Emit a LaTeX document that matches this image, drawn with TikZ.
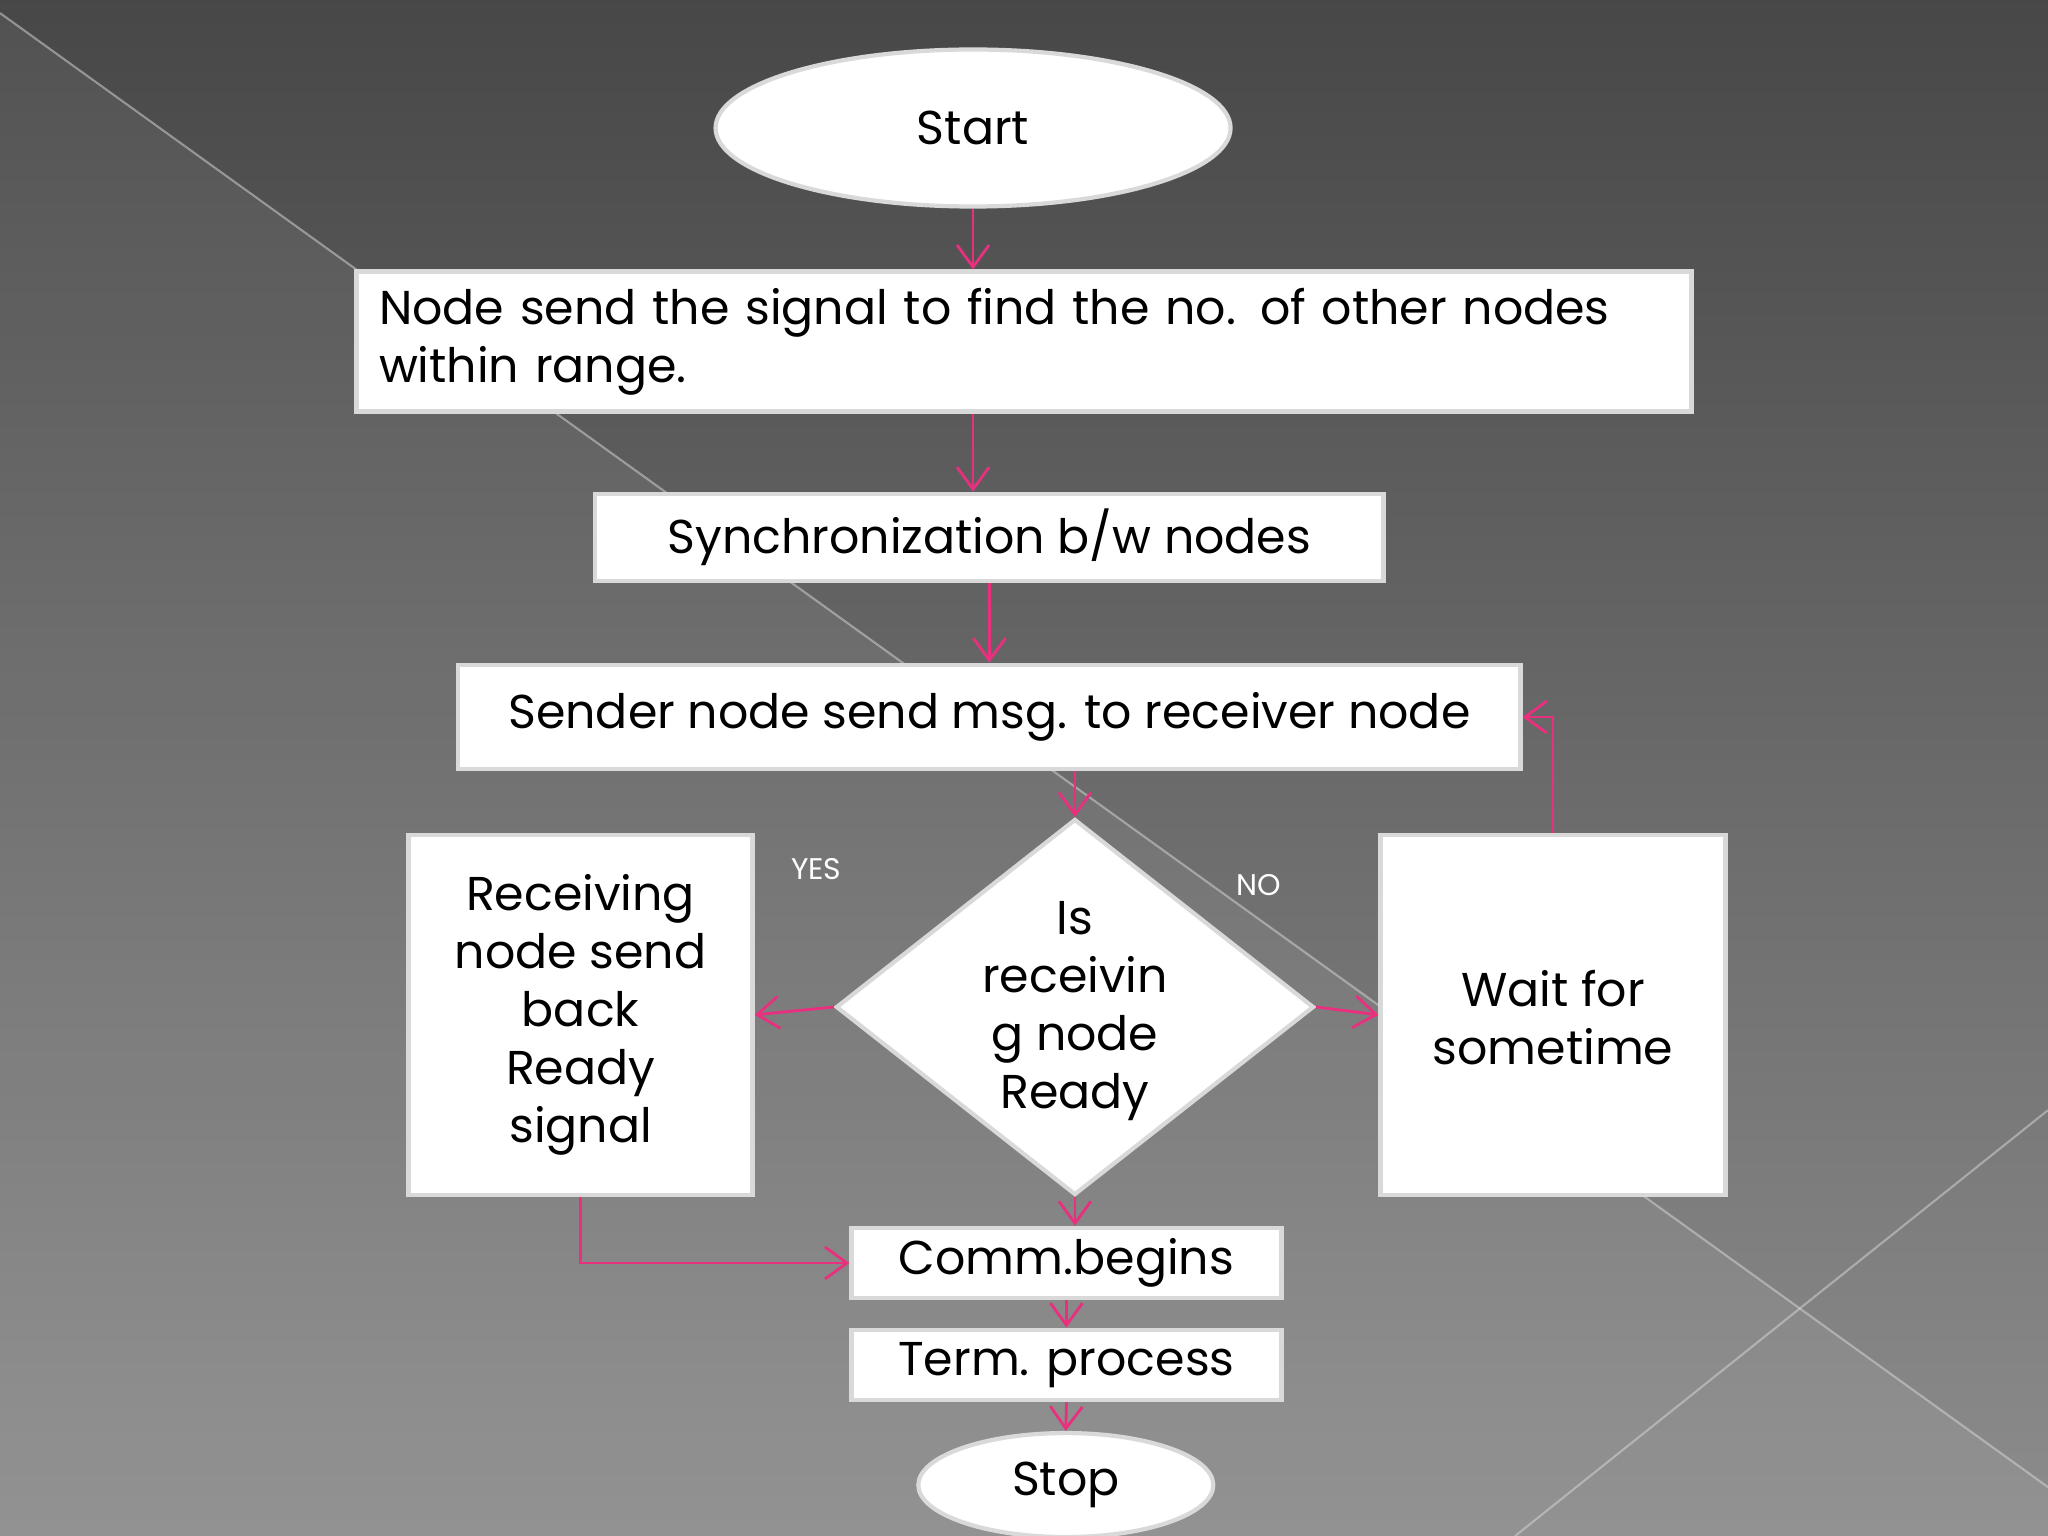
\documentclass[tikz,border=0pt]{standalone}
\usepackage{fontspec}
\setmainfont{Poppins}
\usetikzlibrary{arrows.meta,shapes.geometric}
\definecolor{pk}{HTML}{E8307E}
\begin{document}
\begin{tikzpicture}[x=0.013061cm,y=-0.013061cm,
 box/.style={draw=black!15,line width=1.2pt,fill=white,font=\fontsize{13.5}{16.5}\selectfont,inner sep=0pt},
 arr/.style={draw=pk,line width=0.8pt,-{Straight Barb[length=2.2mm,width=3.2mm]}},
 lab/.style={text=white,font=\fontsize{8.5}{10}\selectfont}]
\useasboundingbox (0,0) rectangle (1568,1176);
\clip (0,0) rectangle (1568,1176);
\shade[top color=black!72,bottom color=black!45] (0,0) rectangle (1568,1176);
\fill[white,opacity=0.06] (0,10) -- (1620,1176) -- (0,1176) -- cycle;
\draw[white!70!gray,opacity=0.5,line width=0.6pt] (0,10) -- (1620,1176);
\draw[white!70!gray,opacity=0.5,line width=0.6pt] (1568,850) -- (1160,1176);
\node[box,ellipse,minimum width=5.15cm,minimum height=1.57cm] (start) at (745,98) {Start};
\node[box,minimum width=13.35cm,minimum height=1.40cm,align=left,text width=12.9cm] (n1) at (784,261.5) {Node send the signal to find the no. of other nodes\\within range.};
\node[box,minimum width=7.88cm,minimum height=0.875cm] (n2) at (757.5,411.5) {Synchronization b/w nodes};
\node[box,minimum width=10.62cm,minimum height=1.045cm] (n3) at (757.5,549) {Sender node send msg. to receiver node};
\node[box,diamond,minimum width=4.78cm,minimum height=3.76cm,inner sep=0pt] (d) at (823,771) {};
\node[font=\fontsize{13.5}{16.5}\selectfont,align=center] at (823,774) {Is\\receivin\\g node\\Ready};
\node[box,minimum width=3.44cm,minimum height=3.6cm,align=center] (l) at (444.5,777) {Receiving\\node send\\back\\Ready\\signal};
\node[box,minimum width=3.45cm,minimum height=3.6cm] (r) at (1189,777) {};
\node[font=\fontsize{13.5}{16.5}\selectfont,align=center] at (1189,779) {Wait for\\sometime};
\node[box,minimum width=4.3cm,minimum height=0.705cm] (c) at (816.5,967) {Comm.begins};
\node[box,minimum width=4.3cm,minimum height=0.705cm] (t) at (816.5,1045) {Term. process};
\node[box,ellipse,minimum width=2.95cm,minimum height=1.04cm] (s) at (816,1137) {Stop};
\node[lab] at (625,665) {YES};
\node[lab] at (964,678) {NO};
\draw[arr] (start.south) -- (n1.north -| start.south);
\draw[arr] (n1.south -| start.south) -- (n2.north -| start.south);
\draw[arr] (n2.south) -- (n3.north);
\draw[arr] (n3.south -| d.north) -- (d.north);
\draw[arr] (d.west) -- (l.east);
\draw[arr] (d.east) -- (r.west);
\draw[arr] (d.south) -- (c.north -| d.south);
\draw[arr] (l.south) |- (c.west);
\draw[arr] (c.south) -- (t.north);
\draw[arr] (t.south) -- (s.north);
\draw[arr] (r.north) |- (n3.east);
\end{tikzpicture}
\end{document}
